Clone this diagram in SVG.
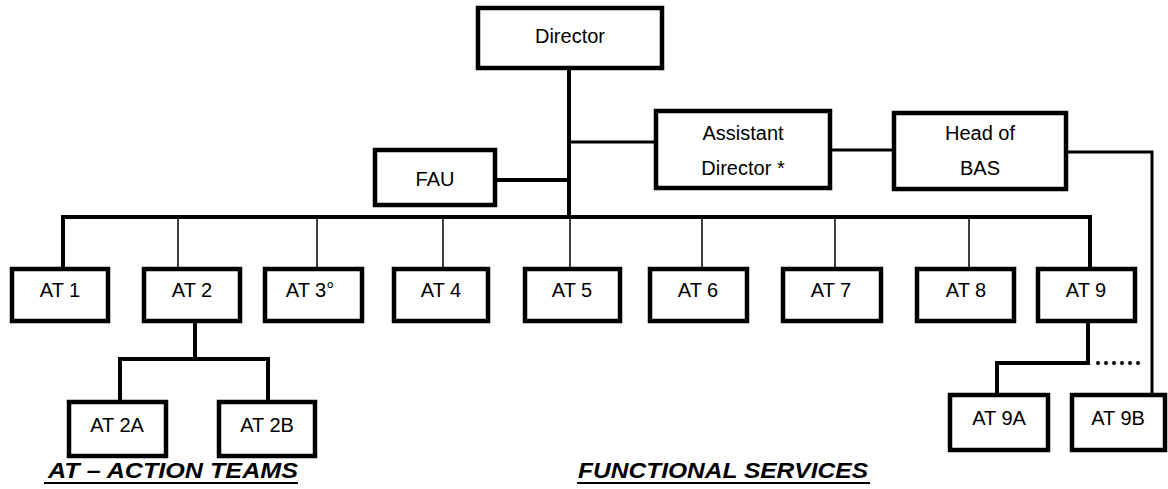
<svg xmlns="http://www.w3.org/2000/svg" width="1168" height="489" viewBox="0 0 1168 489">
<style>
.box{fill:#fff;stroke:#000;stroke-width:4.5}
.t{font-family:"Liberation Sans",Arial,sans-serif;font-size:20px;fill:#000;text-anchor:middle}
.thick{fill:none;stroke:#000;stroke-width:4}
.med{fill:none;stroke:#000;stroke-width:3}
.thin{fill:none;stroke:#000;stroke-width:1.5}
.leg{font-family:"Liberation Sans",Arial,sans-serif;font-size:22px;font-weight:bold;font-style:italic;fill:#000}
</style>
<rect width="1168" height="489" fill="#fff"/>
<g id="connectors">
<path class="thick" d="M569,68 V217"/>
<path class="thick" d="M63,269 V217 H1090 V269"/>
<path class="thin" d="M178,217 V269 M317,217 V269 M443,217 V269 M570,217 V269 M702,217 V269 M835,217 V269 M969,217 V269"/>
<path class="thick" d="M495,180 H569"/>
<path class="med" d="M569,142 H656"/>
<path class="med" d="M830,150 H894"/>
<path class="med" d="M1066,152 H1152 V395"/>
<path class="thick" d="M195,321 V359 M120,402 V359 H268 V402"/>
<path class="thick" d="M1088,321 V363 M997,395 V363 H1090"/>
<path fill="none" stroke="#000" stroke-width="4" stroke-linecap="round" stroke-dasharray="0 8" d="M1098,363 H1146"/>
</g>
<g id="director"><rect class="box" x="478" y="8" width="184" height="60"/><text class="t" x="570" y="43">Director</text></g>
<g id="fau"><rect class="box" x="375" y="150" width="120" height="55"/><text class="t" x="435" y="186">FAU</text></g>
<g id="assistant-director"><rect class="box" x="656" y="111" width="174" height="77"/><text class="t" x="743" y="140">Assistant</text><text class="t" x="743" y="175">Director *</text></g>
<g id="head-of-bas"><rect class="box" x="894" y="113" width="172" height="76"/><text class="t" x="980" y="140">Head of</text><text class="t" x="980" y="175">BAS</text></g>
<g id="at1"><rect class="box" x="12" y="269" width="96" height="52"/><text class="t" x="60" y="297">AT 1</text></g>
<g id="at2"><rect class="box" x="144" y="269" width="96" height="52"/><text class="t" x="192" y="297">AT 2</text></g>
<g id="at3"><rect class="box" x="265" y="269" width="97" height="52"/><text class="t" x="310" y="297">AT 3°</text></g>
<g id="at4"><rect class="box" x="394" y="269" width="94" height="52"/><text class="t" x="441" y="297">AT 4</text></g>
<g id="at5"><rect class="box" x="525" y="269" width="95" height="52"/><text class="t" x="572" y="297">AT 5</text></g>
<g id="at6"><rect class="box" x="650" y="269" width="97" height="52"/><text class="t" x="698" y="297">AT 6</text></g>
<g id="at7"><rect class="box" x="783" y="269" width="98" height="52"/><text class="t" x="831" y="297">AT 7</text></g>
<g id="at8"><rect class="box" x="917" y="269" width="97" height="52"/><text class="t" x="966" y="297">AT 8</text></g>
<g id="at9"><rect class="box" x="1038" y="269" width="97" height="52"/><text class="t" x="1086" y="297">AT 9</text></g>
<g id="at2a"><rect class="box" x="69" y="402" width="97" height="54"/><text class="t" x="117" y="432">AT 2A</text></g>
<g id="at2b"><rect class="box" x="219" y="402" width="96" height="54"/><text class="t" x="267" y="432">AT 2B</text></g>
<g id="at9a"><rect class="box" x="950" y="395" width="98" height="55"/><text class="t" x="999" y="425">AT 9A</text></g>
<g id="at9b"><rect class="box" x="1072" y="395" width="93" height="55"/><text class="t" x="1118" y="425">AT 9B</text></g>
<g id="legend">
<text class="leg" x="48" y="478" textLength="250" lengthAdjust="spacingAndGlyphs">AT – ACTION TEAMS</text>
<line x1="44" y1="483" x2="298" y2="483" stroke="#000" stroke-width="2"/>
<text class="leg" x="578" y="478" textLength="290" lengthAdjust="spacingAndGlyphs">FUNCTIONAL SERVICES</text>
<line x1="577" y1="483" x2="870" y2="483" stroke="#000" stroke-width="2"/>
</g>
</svg>
